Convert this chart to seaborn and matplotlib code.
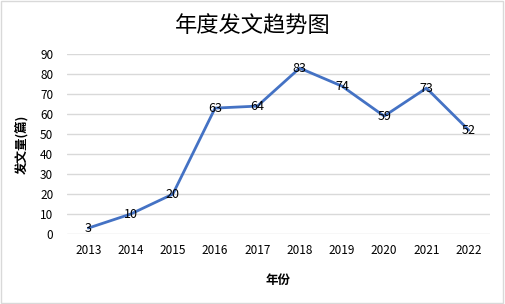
import pandas as pd
import seaborn as sns
import matplotlib.pyplot as plt
from matplotlib.patches import Rectangle

# 数据
years = ['2013', '2014', '2015', '2016', '2017', '2018', '2019', '2020', '2021', '2022']
counts = [3, 10, 20, 63, 64, 83, 74, 59, 73, 52]
yticks = [0, 10, 20, 30, 40, 50, 60, 70, 80, 90]

df = pd.DataFrame({'年份': years, '发文量': counts})

sns.set_theme(style='white')
plt.rcParams['font.family'] = ['Noto Sans CJK SC', 'DejaVu Sans']
plt.rcParams['text.color'] = 'black'
plt.rcParams['axes.labelcolor'] = 'black'

fig = plt.figure(figsize=(5.05, 3.04), dpi=100)
ax = fig.add_axes([0.133, 0.230, 0.837, 0.592])

sns.lineplot(data=df, x='年份', y='发文量', ax=ax, color='#4472C4',
             linewidth=2.0, sort=False)

# 数据标签
for i, v in enumerate(counts):
    ax.text(i, v, str(v), ha='center', va='center', fontsize=9, color='black')

ax.set_xlim(-0.5, len(years) - 0.5)
ax.set_ylim(0, 90)
ax.set_yticks(yticks)
ax.yaxis.grid(True, color='#D9D9D9', linewidth=1)
ax.set_axisbelow(True)
for s in ax.spines.values():
    s.set_visible(False)
ax.tick_params(axis='both', length=0, labelsize=8.5, colors='black', pad=7)
ax.tick_params(axis='y', pad=10)

ax.set_xlabel('年份', fontsize=9, fontweight='bold', labelpad=12)
ax.set_ylabel('发文量(篇)', fontsize=9, fontweight='bold', labelpad=8)
fig.suptitle('年度发文趋势图', fontsize=16, y=0.95, color='black')

# 外框
fig.patches.append(Rectangle((0.002, 0.003), 0.995, 0.993, transform=fig.transFigure,
                             fill=False, edgecolor='#D9D9D9', linewidth=1))

fig.savefig('out.png', dpi=100)
